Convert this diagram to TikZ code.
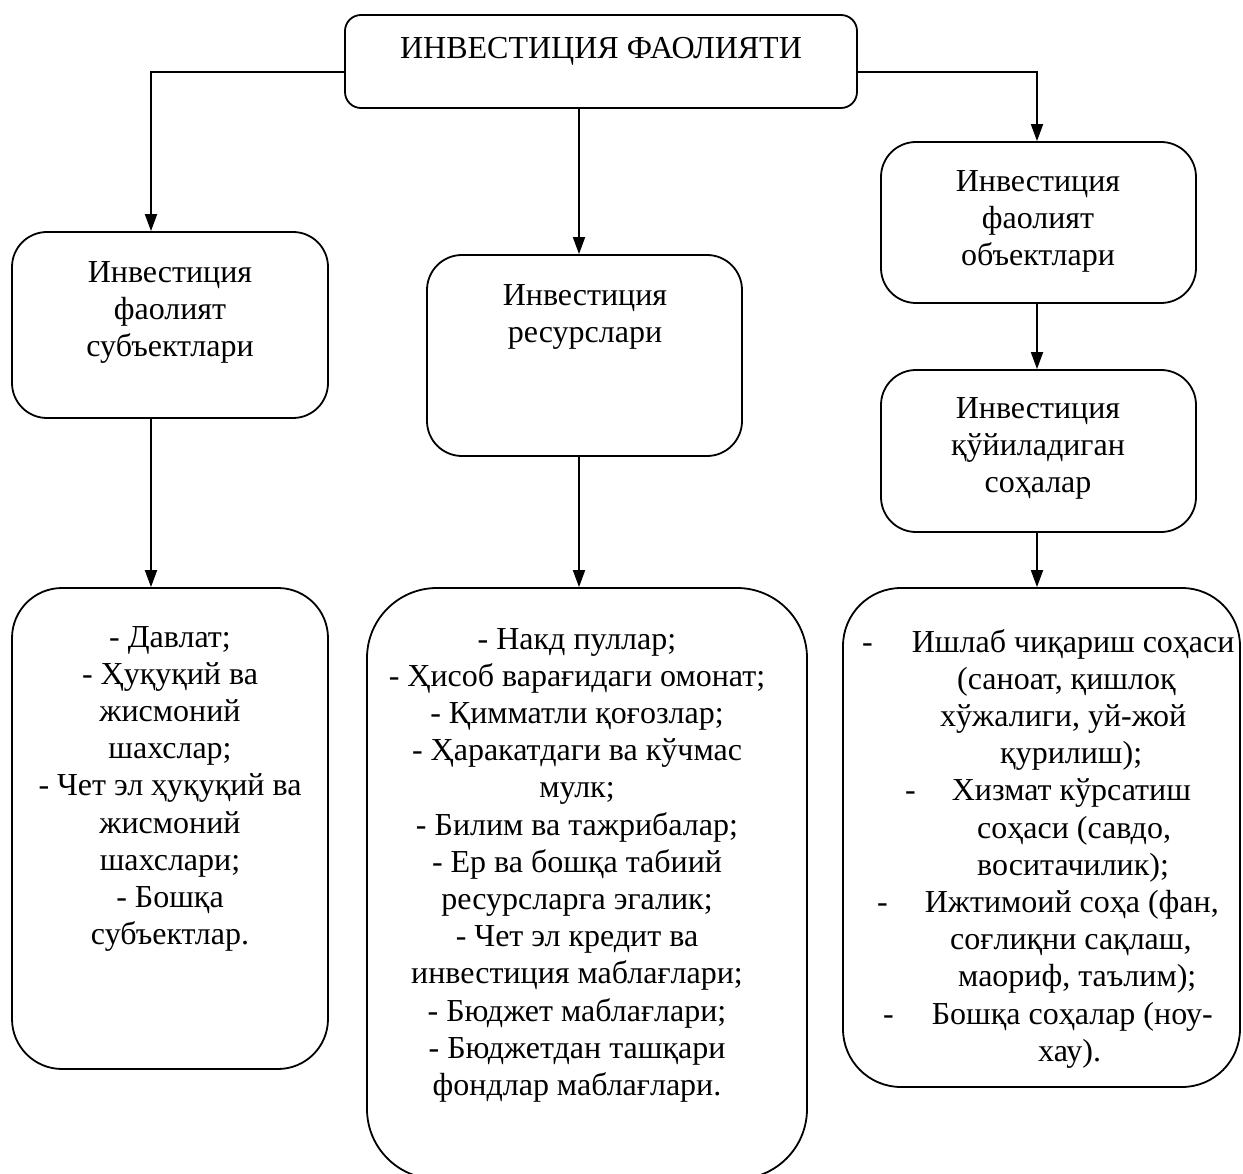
\documentclass[tikz,border=0pt]{standalone}
\usepackage{fontspec}
\setmainfont{Liberation Serif}
\usetikzlibrary{arrows.meta}
\begin{document}
\begin{tikzpicture}[x=1pt,y=-1pt,
  box/.style={draw,line width=1.8pt,rectangle,inner sep=0pt},
  txt/.style={align=center,anchor=north,inner sep=0pt,font=\fontsize{32}{37.2}\selectfont},
  arr/.style={line width=1.8pt,-{Triangle[length=17pt,width=12pt]}}]
\useasboundingbox (0,0) rectangle (1243,1174);
% boxes
\node[box,minimum width=512pt,minimum height=93pt,rounded corners=16pt] (top) at (601,61.5) {};
\node[box,minimum width=316pt,minimum height=186pt,rounded corners=35pt] (L1) at (170,325) {};
\node[box,minimum width=315pt,minimum height=201pt,rounded corners=35pt] (M1) at (584.5,355.5) {};
\node[box,minimum width=315pt,minimum height=161pt,rounded corners=35pt] (R1) at (1038.5,222.5) {};
\node[box,minimum width=315pt,minimum height=162pt,rounded corners=35pt] (R2) at (1038.5,451) {};
\node[box,minimum width=316pt,minimum height=481pt,rounded corners=50pt] (L2) at (170,828.5) {};
\node[box,minimum width=440pt,minimum height=591pt,rounded corners=70pt] (M2) at (587,883.5) {};
\node[box,minimum width=397pt,minimum height=499pt,rounded corners=58pt] (R3) at (1041.5,837.5) {};
% texts
\node[txt] (tTop) at (601,37) {ИНВЕСТИЦИЯ ФАОЛИЯТИ};
\node[txt] (tL1) at (170,261) {Инвестиция\\фаолият\\субъектлари};
\node[txt] (tM1) at (585,284) {Инвестиция\\ресурслари};
\node[txt] (tR1) at (1038,170) {Инвестиция\\фаолият\\объектлари};
\node[txt] (tR2) at (1038,397) {Инвестиция\\қўйиладиган\\соҳалар};
\node[txt] (tL2) at (170,626) {- Давлат;\\- Ҳуқуқий ва\\жисмоний\\шахслар;\\- Чет эл ҳуқуқий ва\\жисмоний\\шахслари;\\- Бошқа\\субъектлар.};
\node[txt] (tM2) at (577,628) {- Накд пуллар;\\- Ҳисоб варағидаги омонат;\\- Қимматли қоғозлар;\\- Ҳаракатдаги ва кўчмас\\мулк;\\- Билим ва тажрибалар;\\- Ер ва бошқа табиий\\ресурсларга эгалик;\\- Чет эл кредит ва\\инвестиция маблағлари;\\- Бюджет маблағлари;\\- Бюджетдан ташқари\\фондлар маблағлари.};
\node[txt,align=left,anchor=north west] (tR3) at (862,629) {-\hspace{39pt}Ишлаб чиқариш соҳаси\\
\hspace*{95pt}(саноат, қишлоқ\\
\hspace*{78pt}хўжалиги, уй-жой\\
\hspace*{138pt}қурилиш);\\
\hspace*{43pt}-\hspace{36pt}Хизмат кўрсатиш\\
\hspace*{115pt}соҳаси (савдо,\\
\hspace*{115pt}воситачилик);\\
\hspace*{15pt}-\hspace{37pt}Ижтимоий соҳа (фан,\\
\hspace*{88pt}соғлиқни сақлаш,\\
\hspace*{96pt}маориф, таълим);\\
\hspace*{21pt}-\hspace{38pt}Бошқа соҳалар (ноу-\\
\hspace*{176pt}хау).};
% connectors
\coordinate (aL) at (151,72);
\coordinate (aR) at (1037,72);
\coordinate (aM) at (579,0);
\draw[arr] (top.west |- aL) -- (aL) -- (aL |- L1.north);
\draw[arr] (top.south -| aM) -- (M1.north -| aM);
\draw[arr] (top.east |- aR) -- (aR) -- (aR |- R1.north);
\draw[arr] (R1.south -| aR) -- (R2.north -| aR);
\draw[arr] (R2.south -| aR) -- (R3.north -| aR);
\draw[arr] (L1.south -| aL) -- (L2.north -| aL);
\draw[arr] (M1.south -| aM) -- (M2.north -| aM);
\end{tikzpicture}
\end{document}
